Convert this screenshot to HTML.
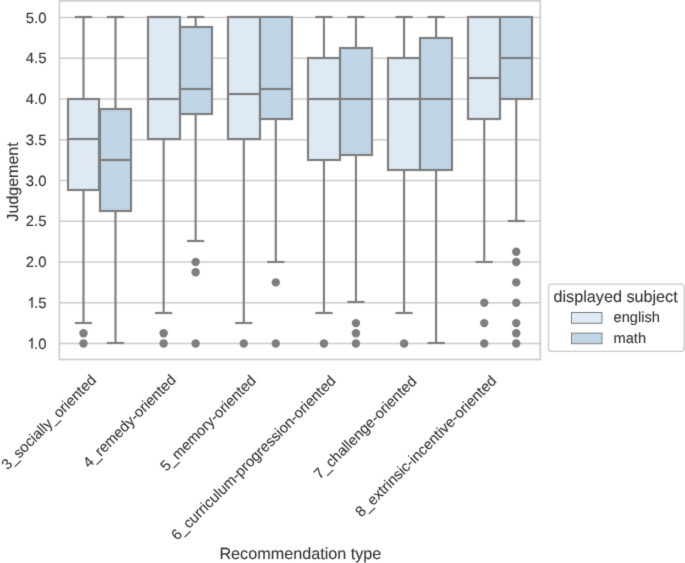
<!DOCTYPE html>
<html><head><meta charset="utf-8"><style>
html,body{margin:0;padding:0;background:#fff;width:685px;height:563px;overflow:hidden}
text{stroke:#333333;stroke-width:0.1px}
svg{display:block;font-family:"Liberation Sans",sans-serif;text-rendering:geometricPrecision}
</style></head><body>

<svg width="685" height="563" viewBox="0 0 685 563">
<defs><filter id="bl" x="0" y="0" width="685" height="563" filterUnits="userSpaceOnUse" color-interpolation-filters="sRGB"><feConvolveMatrix order="3" kernelMatrix="0.01134 0.08382 0.01134 0.08382 0.61935 0.08382 0.01134 0.08382 0.01134" edgeMode="duplicate"/></filter></defs>
<g filter="url(#bl)"><rect width="685" height="563" fill="#fff"/>
<line x1="59.4" x2="540.3" y1="343.50" y2="343.50" stroke="#cccccc" stroke-width="1.33"/>
<line x1="59.4" x2="540.3" y1="302.75" y2="302.75" stroke="#cccccc" stroke-width="1.33"/>
<line x1="59.4" x2="540.3" y1="262.00" y2="262.00" stroke="#cccccc" stroke-width="1.33"/>
<line x1="59.4" x2="540.3" y1="221.25" y2="221.25" stroke="#cccccc" stroke-width="1.33"/>
<line x1="59.4" x2="540.3" y1="180.50" y2="180.50" stroke="#cccccc" stroke-width="1.33"/>
<line x1="59.4" x2="540.3" y1="139.75" y2="139.75" stroke="#cccccc" stroke-width="1.33"/>
<line x1="59.4" x2="540.3" y1="99.00" y2="99.00" stroke="#cccccc" stroke-width="1.33"/>
<line x1="59.4" x2="540.3" y1="58.25" y2="58.25" stroke="#cccccc" stroke-width="1.33"/>
<line x1="59.4" x2="540.3" y1="17.50" y2="17.50" stroke="#cccccc" stroke-width="1.33"/>
<line x1="83.50" x2="83.50" y1="190" y2="323" stroke="#7e7e7e" stroke-width="2.15"/>
<line x1="83.50" x2="83.50" y1="99" y2="17" stroke="#7e7e7e" stroke-width="2.15"/>
<line x1="74.90" x2="92.10" y1="323" y2="323" stroke="#7e7e7e" stroke-width="2.15"/>
<line x1="74.90" x2="92.10" y1="17" y2="17" stroke="#7e7e7e" stroke-width="2.15"/>
<rect x="68" y="99" width="31" height="91" fill="#dee9f3" stroke="#7e7e7e" stroke-width="2.15" stroke-linejoin="miter"/>
<line x1="68" x2="99" y1="139" y2="139" stroke="#7e7e7e" stroke-width="2.15"/>
<circle cx="83.50" cy="333.31" r="4.2" fill="#7e7e7e"/>
<circle cx="83.50" cy="343.50" r="4.2" fill="#7e7e7e"/>
<line x1="115.50" x2="115.50" y1="211" y2="343" stroke="#7e7e7e" stroke-width="2.15"/>
<line x1="115.50" x2="115.50" y1="109" y2="17" stroke="#7e7e7e" stroke-width="2.15"/>
<line x1="106.90" x2="124.10" y1="343" y2="343" stroke="#7e7e7e" stroke-width="2.15"/>
<line x1="106.90" x2="124.10" y1="17" y2="17" stroke="#7e7e7e" stroke-width="2.15"/>
<rect x="100" y="109" width="31" height="102" fill="#c0d5e5" stroke="#7e7e7e" stroke-width="2.15" stroke-linejoin="miter"/>
<line x1="100" x2="131" y1="160" y2="160" stroke="#7e7e7e" stroke-width="2.15"/>
<line x1="163.65" x2="163.65" y1="139" y2="313" stroke="#7e7e7e" stroke-width="2.15"/>
<line x1="163.65" x2="163.65" y1="17" y2="17" stroke="#7e7e7e" stroke-width="2.15"/>
<line x1="155.05" x2="172.25" y1="313" y2="313" stroke="#7e7e7e" stroke-width="2.15"/>
<line x1="155.05" x2="172.25" y1="17" y2="17" stroke="#7e7e7e" stroke-width="2.15"/>
<rect x="148" y="17" width="32" height="122" fill="#dee9f3" stroke="#7e7e7e" stroke-width="2.15" stroke-linejoin="miter"/>
<line x1="148" x2="180" y1="99" y2="99" stroke="#7e7e7e" stroke-width="2.15"/>
<circle cx="163.65" cy="333.31" r="4.2" fill="#7e7e7e"/>
<circle cx="163.65" cy="343.50" r="4.2" fill="#7e7e7e"/>
<line x1="195.65" x2="195.65" y1="114" y2="241" stroke="#7e7e7e" stroke-width="2.15"/>
<line x1="195.65" x2="195.65" y1="27" y2="17" stroke="#7e7e7e" stroke-width="2.15"/>
<line x1="187.05" x2="204.25" y1="241" y2="241" stroke="#7e7e7e" stroke-width="2.15"/>
<line x1="187.05" x2="204.25" y1="17" y2="17" stroke="#7e7e7e" stroke-width="2.15"/>
<rect x="180" y="27" width="32" height="87" fill="#c0d5e5" stroke="#7e7e7e" stroke-width="2.15" stroke-linejoin="miter"/>
<line x1="180" x2="212" y1="89" y2="89" stroke="#7e7e7e" stroke-width="2.15"/>
<circle cx="195.65" cy="262.00" r="4.2" fill="#7e7e7e"/>
<circle cx="195.65" cy="272.19" r="4.2" fill="#7e7e7e"/>
<circle cx="195.65" cy="343.50" r="4.2" fill="#7e7e7e"/>
<line x1="243.80" x2="243.80" y1="139" y2="323" stroke="#7e7e7e" stroke-width="2.15"/>
<line x1="243.80" x2="243.80" y1="17" y2="17" stroke="#7e7e7e" stroke-width="2.15"/>
<line x1="235.20" x2="252.40" y1="323" y2="323" stroke="#7e7e7e" stroke-width="2.15"/>
<line x1="235.20" x2="252.40" y1="17" y2="17" stroke="#7e7e7e" stroke-width="2.15"/>
<rect x="228" y="17" width="32" height="122" fill="#dee9f3" stroke="#7e7e7e" stroke-width="2.15" stroke-linejoin="miter"/>
<line x1="228" x2="260" y1="94" y2="94" stroke="#7e7e7e" stroke-width="2.15"/>
<circle cx="243.80" cy="343.50" r="4.2" fill="#7e7e7e"/>
<line x1="275.80" x2="275.80" y1="119" y2="262" stroke="#7e7e7e" stroke-width="2.15"/>
<line x1="275.80" x2="275.80" y1="17" y2="17" stroke="#7e7e7e" stroke-width="2.15"/>
<line x1="267.20" x2="284.40" y1="262" y2="262" stroke="#7e7e7e" stroke-width="2.15"/>
<line x1="267.20" x2="284.40" y1="17" y2="17" stroke="#7e7e7e" stroke-width="2.15"/>
<rect x="260" y="17" width="32" height="102" fill="#c0d5e5" stroke="#7e7e7e" stroke-width="2.15" stroke-linejoin="miter"/>
<line x1="260" x2="292" y1="89" y2="89" stroke="#7e7e7e" stroke-width="2.15"/>
<circle cx="275.80" cy="282.38" r="4.2" fill="#7e7e7e"/>
<circle cx="275.80" cy="343.50" r="4.2" fill="#7e7e7e"/>
<line x1="323.95" x2="323.95" y1="160" y2="313" stroke="#7e7e7e" stroke-width="2.15"/>
<line x1="323.95" x2="323.95" y1="58" y2="17" stroke="#7e7e7e" stroke-width="2.15"/>
<line x1="315.35" x2="332.55" y1="313" y2="313" stroke="#7e7e7e" stroke-width="2.15"/>
<line x1="315.35" x2="332.55" y1="17" y2="17" stroke="#7e7e7e" stroke-width="2.15"/>
<rect x="308" y="58" width="32" height="102" fill="#dee9f3" stroke="#7e7e7e" stroke-width="2.15" stroke-linejoin="miter"/>
<line x1="308" x2="340" y1="99" y2="99" stroke="#7e7e7e" stroke-width="2.15"/>
<circle cx="323.95" cy="343.50" r="4.2" fill="#7e7e7e"/>
<line x1="355.95" x2="355.95" y1="155" y2="302" stroke="#7e7e7e" stroke-width="2.15"/>
<line x1="355.95" x2="355.95" y1="48" y2="17" stroke="#7e7e7e" stroke-width="2.15"/>
<line x1="347.35" x2="364.55" y1="302" y2="302" stroke="#7e7e7e" stroke-width="2.15"/>
<line x1="347.35" x2="364.55" y1="17" y2="17" stroke="#7e7e7e" stroke-width="2.15"/>
<rect x="340" y="48" width="32" height="107" fill="#c0d5e5" stroke="#7e7e7e" stroke-width="2.15" stroke-linejoin="miter"/>
<line x1="340" x2="372" y1="99" y2="99" stroke="#7e7e7e" stroke-width="2.15"/>
<circle cx="355.95" cy="323.12" r="4.2" fill="#7e7e7e"/>
<circle cx="355.95" cy="333.31" r="4.2" fill="#7e7e7e"/>
<circle cx="355.95" cy="343.50" r="4.2" fill="#7e7e7e"/>
<line x1="404.10" x2="404.10" y1="170" y2="313" stroke="#7e7e7e" stroke-width="2.15"/>
<line x1="404.10" x2="404.10" y1="58" y2="17" stroke="#7e7e7e" stroke-width="2.15"/>
<line x1="395.50" x2="412.70" y1="313" y2="313" stroke="#7e7e7e" stroke-width="2.15"/>
<line x1="395.50" x2="412.70" y1="17" y2="17" stroke="#7e7e7e" stroke-width="2.15"/>
<rect x="388" y="58" width="32" height="112" fill="#dee9f3" stroke="#7e7e7e" stroke-width="2.15" stroke-linejoin="miter"/>
<line x1="388" x2="420" y1="99" y2="99" stroke="#7e7e7e" stroke-width="2.15"/>
<circle cx="404.10" cy="343.50" r="4.2" fill="#7e7e7e"/>
<line x1="436.10" x2="436.10" y1="170" y2="343" stroke="#7e7e7e" stroke-width="2.15"/>
<line x1="436.10" x2="436.10" y1="38" y2="17" stroke="#7e7e7e" stroke-width="2.15"/>
<line x1="427.50" x2="444.70" y1="343" y2="343" stroke="#7e7e7e" stroke-width="2.15"/>
<line x1="427.50" x2="444.70" y1="17" y2="17" stroke="#7e7e7e" stroke-width="2.15"/>
<rect x="420" y="38" width="32" height="132" fill="#c0d5e5" stroke="#7e7e7e" stroke-width="2.15" stroke-linejoin="miter"/>
<line x1="420" x2="452" y1="99" y2="99" stroke="#7e7e7e" stroke-width="2.15"/>
<line x1="484.25" x2="484.25" y1="119" y2="262" stroke="#7e7e7e" stroke-width="2.15"/>
<line x1="484.25" x2="484.25" y1="17" y2="17" stroke="#7e7e7e" stroke-width="2.15"/>
<line x1="475.65" x2="492.85" y1="262" y2="262" stroke="#7e7e7e" stroke-width="2.15"/>
<line x1="475.65" x2="492.85" y1="17" y2="17" stroke="#7e7e7e" stroke-width="2.15"/>
<rect x="468" y="17" width="32" height="102" fill="#dee9f3" stroke="#7e7e7e" stroke-width="2.15" stroke-linejoin="miter"/>
<line x1="468" x2="500" y1="78" y2="78" stroke="#7e7e7e" stroke-width="2.15"/>
<circle cx="484.25" cy="302.75" r="4.2" fill="#7e7e7e"/>
<circle cx="484.25" cy="323.12" r="4.2" fill="#7e7e7e"/>
<circle cx="484.25" cy="343.50" r="4.2" fill="#7e7e7e"/>
<line x1="516.25" x2="516.25" y1="99" y2="221" stroke="#7e7e7e" stroke-width="2.15"/>
<line x1="516.25" x2="516.25" y1="17" y2="17" stroke="#7e7e7e" stroke-width="2.15"/>
<line x1="507.65" x2="524.85" y1="221" y2="221" stroke="#7e7e7e" stroke-width="2.15"/>
<line x1="507.65" x2="524.85" y1="17" y2="17" stroke="#7e7e7e" stroke-width="2.15"/>
<rect x="500" y="17" width="32" height="82" fill="#c0d5e5" stroke="#7e7e7e" stroke-width="2.15" stroke-linejoin="miter"/>
<line x1="500" x2="532" y1="58" y2="58" stroke="#7e7e7e" stroke-width="2.15"/>
<circle cx="516.25" cy="251.81" r="4.2" fill="#7e7e7e"/>
<circle cx="516.25" cy="262.00" r="4.2" fill="#7e7e7e"/>
<circle cx="516.25" cy="282.38" r="4.2" fill="#7e7e7e"/>
<circle cx="516.25" cy="302.75" r="4.2" fill="#7e7e7e"/>
<circle cx="516.25" cy="323.12" r="4.2" fill="#7e7e7e"/>
<circle cx="516.25" cy="333.31" r="4.2" fill="#7e7e7e"/>
<circle cx="516.25" cy="343.50" r="4.2" fill="#7e7e7e"/>
<rect x="59.4" y="0.9" width="480.90" height="358.60" fill="none" stroke="#cccccc" stroke-width="1.67"/>
<text x="46.5" y="348.50" text-anchor="end" font-size="14.9" fill="#333333">.0</text>
<path d="M31.35,348.50 L32.69,348.50 L32.69,337.83 L31.82,337.83 L31.30,338.59 L30.56,339.41 L28.92,340.53 L28.92,341.87 L30.26,341.05 L31.35,340.16 Z" fill="#333333" stroke="#333333" stroke-width="0.1"/>
<text x="46.5" y="307.75" text-anchor="end" font-size="14.9" fill="#333333">.5</text>
<path d="M31.35,307.75 L32.69,307.75 L32.69,297.08 L31.82,297.08 L31.30,297.84 L30.56,298.66 L28.92,299.78 L28.92,301.12 L30.26,300.30 L31.35,299.41 Z" fill="#333333" stroke="#333333" stroke-width="0.1"/>
<text x="46.5" y="267.00" text-anchor="end" font-size="14.9" fill="#333333">2.0</text>
<text x="46.5" y="226.25" text-anchor="end" font-size="14.9" fill="#333333">2.5</text>
<text x="46.5" y="185.50" text-anchor="end" font-size="14.9" fill="#333333">3.0</text>
<text x="46.5" y="144.75" text-anchor="end" font-size="14.9" fill="#333333">3.5</text>
<text x="46.5" y="104.00" text-anchor="end" font-size="14.9" fill="#333333">4.0</text>
<text x="46.5" y="63.25" text-anchor="end" font-size="14.9" fill="#333333">4.5</text>
<text x="46.5" y="22.50" text-anchor="end" font-size="14.9" fill="#333333">5.0</text>
<text transform="translate(97.08,380.97) rotate(-45)" text-anchor="end" font-size="14.8" fill="#333333">3_socially_oriented</text>
<text transform="translate(176.93,380.77) rotate(-45)" text-anchor="end" font-size="14.8" fill="#333333">4_remedy-oriented</text>
<text transform="translate(256.88,381.32) rotate(-45)" text-anchor="end" font-size="14.8" fill="#333333">5_memory-oriented</text>
<text transform="translate(336.63,381.67) rotate(-45)" text-anchor="end" font-size="14.8" fill="#333333">6_curriculum-progression-oriented</text>
<text transform="translate(417.48,382.07) rotate(-45)" text-anchor="end" font-size="14.8" fill="#333333">7_challenge-oriented</text>
<text transform="translate(497.43,381.67) rotate(-45)" text-anchor="end" font-size="14.8" fill="#333333">8_extrinsic-incentive-oriented</text>
<text x="300.4" y="559.3" text-anchor="middle" font-size="16.2" fill="#333333">Recommendation type</text>
<text transform="translate(18.2,181.9) rotate(-90)" text-anchor="middle" font-size="16" fill="#333333">Judgement</text>
<rect x="548.5" y="284.1" width="135.6" height="67.3" rx="3" ry="3" fill="#fff" stroke="#cccccc" stroke-width="1.33"/>
<text x="553.5" y="301.8" font-size="16.2" fill="#333333">displayed subject</text>
<rect x="571.5" y="312.5" width="30.5" height="10.8" fill="#dee9f3" stroke="#7e7e7e" stroke-width="1"/>
<rect x="571.5" y="333.1" width="30.5" height="10.6" fill="#c0d5e5" stroke="#7e7e7e" stroke-width="1"/>
<text x="613.5" y="321.9" font-size="14.67" fill="#333333">english</text>
<text x="613.5" y="342.7" font-size="14.67" fill="#333333">math</text>
</g></svg>
</body></html>
